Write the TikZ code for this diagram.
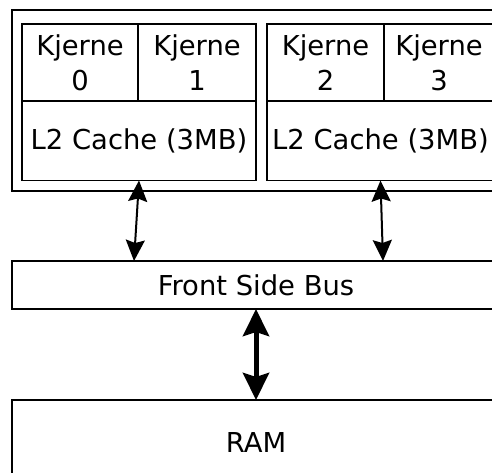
\documentclass[tikz,border=0pt]{standalone}
\usepackage{fontspec}
\setmainfont{DejaVu Sans}
\usetikzlibrary{arrows.meta}
\begin{document}
\begin{tikzpicture}[x=1pt,y=-1pt,line width=1.6pt,
  cell/.style={draw,rectangle,inner sep=0pt,outer sep=0pt,align=center,
    font=\fontsize{27.4}{35}\selectfont},
  link/.style={line width=2pt,
    {Stealth[length=21pt,width=19pt,inset=3pt]}-{Stealth[length=21pt,width=19pt,inset=3pt]}},
  mainlink/.style={line width=5pt,
    {Stealth[length=27pt,width=26pt,inset=4pt]}-{Stealth[length=27pt,width=26pt,inset=4pt]}}]
\useasboundingbox (0,0) rectangle (492,472);
\clip (0,0) rectangle (492,472);

% processor package
\node[cell,minimum width=488pt,minimum height=181pt] (package) at (256,100.5) {};

% first die
\node[cell,minimum width=116pt,minimum height=77pt] (core0) at (80,62.5) {Kjerne\\0};
\node[cell,minimum width=118pt,minimum height=77pt] (core1) at (197,62.5) {Kjerne\\1};
\node[cell,minimum width=234pt,minimum height=80pt] (cache0) at (139,140.5) {L2 Cache (3MB)};

% second die
\node[cell,minimum width=117pt,minimum height=77pt] (core2) at (325.5,62.5) {Kjerne\\2};
\node[cell,minimum width=110pt,minimum height=77pt] (core3) at (439,62.5) {Kjerne\\3};
\node[cell,minimum width=227pt,minimum height=80pt] (cache1) at (380.5,140.5) {L2 Cache (3MB)};

% bus and memory
\node[cell,minimum width=488pt,minimum height=48pt] (fsb) at (256,285) {Front Side Bus};
\node[cell,minimum width=488pt,minimum height=85pt] (ram) at (256,442.5) {RAM};

% connections
\draw[link] (cache0.south) -- ([xshift=122pt]fsb.north west);
\draw[link] (cache1.south) -- ([xshift=371pt]fsb.north west);
\draw[mainlink] (fsb.south) -- (ram.north);
\end{tikzpicture}
\end{document}
